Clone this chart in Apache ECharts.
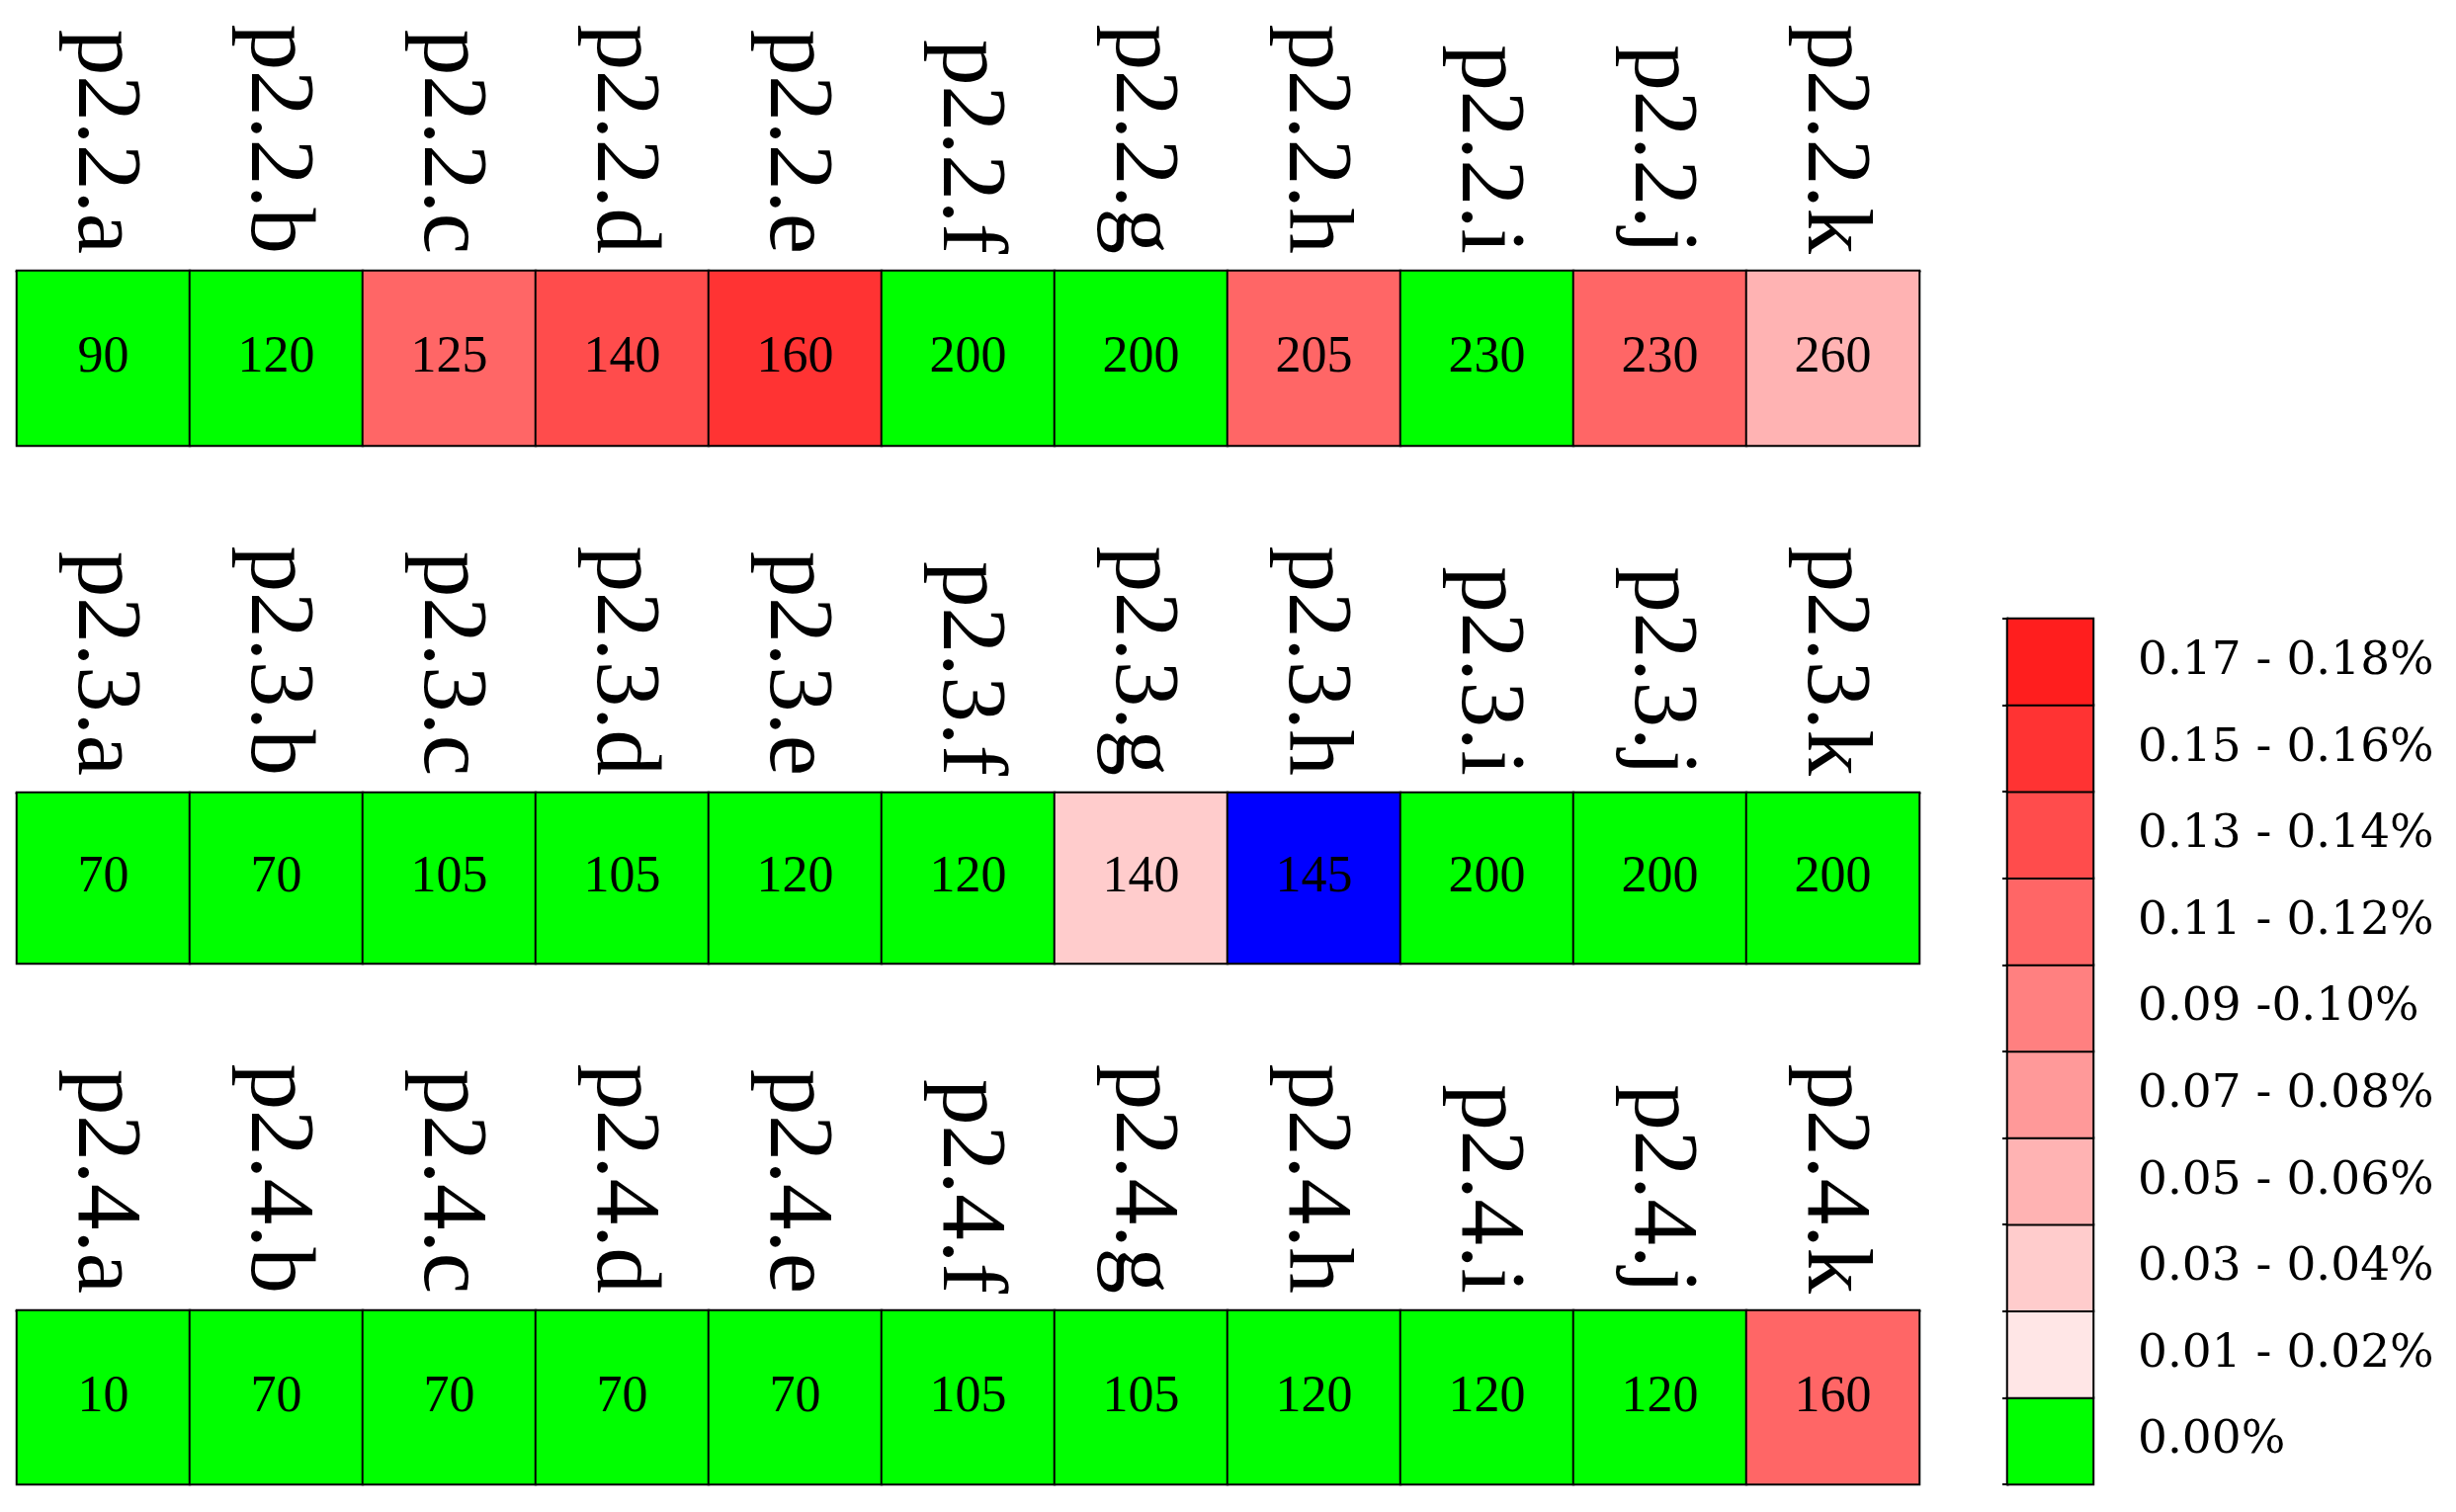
<!DOCTYPE html>
<html>
<head>
<meta charset="utf-8">
<title>p2 rows</title>
<script src="https://cdn.jsdelivr.net/npm/echarts@6.0.0/dist/echarts.min.js"></script>
<style>
  html, body { margin: 0; padding: 0; background: #fff; }
  #main { width: 2485px; height: 1530px; }
</style>
</head>
<body>
<div id="main"></div>
<script>
// column names of the three rows
var row1Names = ['p2.2.a', 'p2.2.b', 'p2.2.c', 'p2.2.d', 'p2.2.e', 'p2.2.f', 'p2.2.g', 'p2.2.h', 'p2.2.i', 'p2.2.j', 'p2.2.k']
var row2Names = ['p2.3.a', 'p2.3.b', 'p2.3.c', 'p2.3.d', 'p2.3.e', 'p2.3.f', 'p2.3.g', 'p2.3.h', 'p2.3.i', 'p2.3.j', 'p2.3.k']
var row3Names = ['p2.4.a', 'p2.4.b', 'p2.4.c', 'p2.4.d', 'p2.4.e', 'p2.4.f', 'p2.4.g', 'p2.4.h', 'p2.4.i', 'p2.4.j', 'p2.4.k']

// numbers written in the cells
var row1Values = [90, 120, 125, 140, 160, 200, 200, 205, 230, 230, 260]
var row2Values = [70, 70, 105, 105, 120, 120, 140, 145, 200, 200, 200]
var row3Values = [10, 70, 70, 70, 70, 105, 105, 120, 120, 120, 160]

// colour class of each cell = index in legendLabels, -1 = marked (blue) cell
var row1Levels = [0, 0, 6, 7, 8, 0, 0, 6, 0, 6, 3]
var row2Levels = [0, 0, 0, 0, 0, 0, 2, -1, 0, 0, 0]
var row3Levels = [0, 0, 0, 0, 0, 0, 0, 0, 0, 0, 6]

// legend, from bottom to top
var legendLabels = ['0.00%', '0.01 - 0.02%', '0.03 - 0.04%', '0.05 - 0.06%', '0.07 - 0.08%',
  '0.09 -0.10%', '0.11 - 0.12%', '0.13 - 0.14%', '0.15 - 0.16%', '0.17 - 0.18%']
var legendLevels = [0, 1, 2, 3, 4, 5, 6, 7, 8, 9]

var levelColors = ['#00ff00', '#ffe6e6', '#ffcccc', '#ffb3b3', '#ff9999',
  '#ff8080', '#ff6666', '#ff4c4c', '#ff3333', '#ff1e1e']
var markColor = '#0000ff'

var chart = echarts.init(document.getElementById('main'))

var rows = [
  { names: row1Names, values: row1Values, levels: row1Levels },
  { names: row2Names, values: row2Values, levels: row2Levels },
  { names: row3Names, values: row3Values, levels: row3Levels }
]
var rowTops = [274, 802, 1326]
var rowHeights = [177, 173, 176]

var grid = []
var xAxis = []
var yAxis = []
var series = []

rows.forEach(function (row, r) {
  grid.push({ left: 17, top: rowTops[r], width: 1925, height: rowHeights[r] })
  xAxis.push({
    type: 'category',
    gridIndex: r,
    position: 'top',
    data: row.names,
    axisLine: { show: true, lineStyle: { color: '#000', width: 3 } },
    axisTick: { show: false },
    splitLine: { show: false },
    axisLabel: {
      interval: 0,
      rotate: 90,
      margin: 17,
      padding: [18, 0, 0, 0],
      color: '#000',
      fontFamily: 'Liberation Serif',
      fontSize: 93
    }
  })
  yAxis.push({ type: 'category', gridIndex: r, data: [''], show: false })
  series.push({
    type: 'heatmap',
    xAxisIndex: r,
    yAxisIndex: r,
    data: row.values.map(function (v, i) { return [i, 0, row.levels[i], v] }),
    itemStyle: { borderColor: '#000', borderWidth: 2 },
    label: {
      show: true,
      formatter: function (p) { return p.value[3] },
      color: '#000',
      fontFamily: 'Liberation Serif',
      fontSize: 52
    },
    emphasis: { disabled: true }
  })
})

// legend drawn as a one-column heatmap
grid.push({ left: 2031, top: 626, width: 87, height: 876 })
xAxis.push({ type: 'category', gridIndex: 3, data: [''], show: false })
yAxis.push({
  type: 'category',
  gridIndex: 3,
  position: 'right',
  data: legendLabels,
  axisLine: { show: false },
  axisTick: { show: false },
  axisLabel: {
    margin: 45,
    color: '#000',
    fontFamily: 'DejaVu Serif',
    fontSize: 47
  }
})
yAxis.push({
  type: 'category',
  gridIndex: 3,
  position: 'left',
  data: legendLabels,
  axisLine: { show: true, lineStyle: { color: '#000', width: 3 } },
  axisTick: { show: true, length: 5, lineStyle: { color: '#000', width: 2 } },
  axisLabel: { show: false }
})
series.push({
  type: 'heatmap',
  xAxisIndex: 3,
  yAxisIndex: 3,
  data: legendLevels.map(function (lv, i) { return [0, i, lv] }),
  itemStyle: { borderColor: '#000', borderWidth: 2 },
  emphasis: { disabled: true }
})

chart.setOption({
  animation: false,
  backgroundColor: '#fff',
  grid: grid,
  xAxis: xAxis,
  yAxis: yAxis,
  visualMap: {
    type: 'piecewise',
    show: false,
    dimension: 2,
    seriesIndex: [0, 1, 2, 3],
    pieces: levelColors.map(function (c, i) { return { value: i, color: c } }),
    outOfRange: { color: markColor }
  },
  series: series
})
</script>
</body>
</html>
